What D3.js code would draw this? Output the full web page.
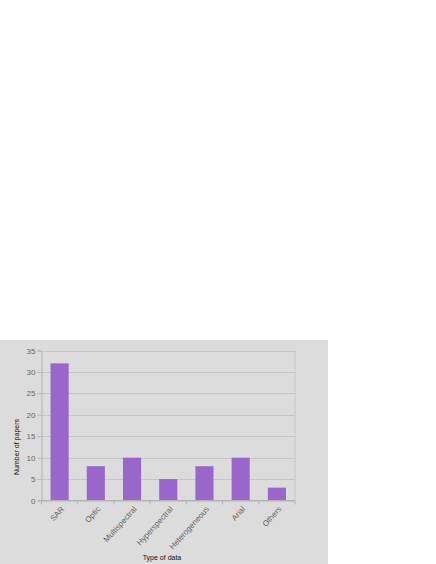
<!DOCTYPE html>
<meta charset="utf-8">
<style>
  body {margin: 0; background: #fff; font-family: 'Liberation Sans', Arial, sans-serif;}
</style>
<body>
<svg width="436" height="564"></svg>
<script src="https://d3js.org/d3.v7.min.js"></script>
<script>

var categories = ["SAR", "Optic", "Multispectral", "Hyperspectral", "Heterogeneous", "Arial", "Others"];
var papers = [32, 8, 10, 5, 8, 10, 3];
var yTicks = [0, 5, 10, 15, 20, 25, 30, 35];

var svg = d3.select("svg");

// grey panel behind chart
svg.append("rect")
    .attr("x", 0).attr("y", 340)
    .attr("width", 328).attr("height", 224)
    .attr("fill", "#dcdcdc");

var plotLeft = 41.5, plotRight = 295, plotTop = 350.5, plotBottom = 500.5;

var x = d3.scaleBand().domain(categories).range([plotLeft, plotRight]).paddingInner(0.5).paddingOuter(0.25);
var y = d3.scaleLinear().domain([0, 35]).range([plotBottom, plotTop]);

// grid
svg.append("g")
    .selectAll("line")
    .data(yTicks)
    .enter().append("line")
      .attr("x1", plotLeft).attr("x2", plotRight)
      .attr("y1", function(d) { return Math.round(y(d)) + 0.5; })
      .attr("y2", function(d) { return Math.round(y(d)) + 0.5; })
      .style("stroke", "#c6c6c6")
      .style("stroke-width", "1px");

// right border of plot
svg.append("line")
    .attr("x1", plotRight).attr("x2", plotRight)
    .attr("y1", plotTop).attr("y2", plotBottom)
    .style("stroke", "#c6c6c6");

// bars
svg.append("g")
    .selectAll("rect")
    .data(papers)
    .enter().append("rect")
      .attr("x", function(d, i) { return x(categories[i]); })
      .attr("y", function(d) { return y(d); })
      .attr("width", x.bandwidth())
      .attr("height", function(d) { return plotBottom - y(d); })
      .attr("fill", "#9966cc");

// y axis
var yAxis = svg.append("g")
    .attr("transform", "translate(" + plotLeft + ",0)")
    .call(d3.axisLeft(y).tickValues(yTicks).tickSize(4).tickPadding(2));
yAxis.select(".domain").attr("stroke", "#b3b3b3");
yAxis.selectAll(".tick line").attr("stroke", "#b3b3b3");
yAxis.selectAll("text")
    .style("font-size", "8px")
    .style("fill", "#666")
    .style("font-family", "'Liberation Sans', Arial, sans-serif");

// x axis
var xAxisG = svg.append("g").attr("transform", "translate(0," + plotBottom + ")");
xAxisG.append("line")
    .attr("x1", plotLeft).attr("x2", plotRight)
    .attr("stroke", "#b3b3b3");
xAxisG.selectAll(".sep")
    .data(d3.range(categories.length + 1))
    .enter().append("line")
      .attr("x1", function(i) { return plotLeft + i * (plotRight - plotLeft) / categories.length; })
      .attr("x2", function(i) { return plotLeft + i * (plotRight - plotLeft) / categories.length; })
      .attr("y1", 0).attr("y2", 4)
      .attr("stroke", "#b3b3b3");
xAxisG.selectAll(".lbl")
    .data(categories)
    .enter().append("text")
      .attr("transform", function(d) {
        return "translate(" + (x(d) + x.bandwidth() / 2 + 3) + ",7) rotate(-48)";
      })
      .attr("text-anchor", "end")
      .attr("dy", "0.35em")
      .style("font-size", "8px")
      .style("fill", "#666")
      .text(function(d) { return d; });

// titles
svg.append("text")
    .attr("transform", "translate(19,447) rotate(-90)")
    .attr("text-anchor", "middle")
    .style("font-size", "7px")
    .style("fill", "#111")
    .text("Number of papers");

svg.append("text")
    .attr("x", 162).attr("y", 560)
    .attr("text-anchor", "middle")
    .style("font-size", "7px")
    .style("fill", "#111")
    .text("Type of data");

</script>
</body>
